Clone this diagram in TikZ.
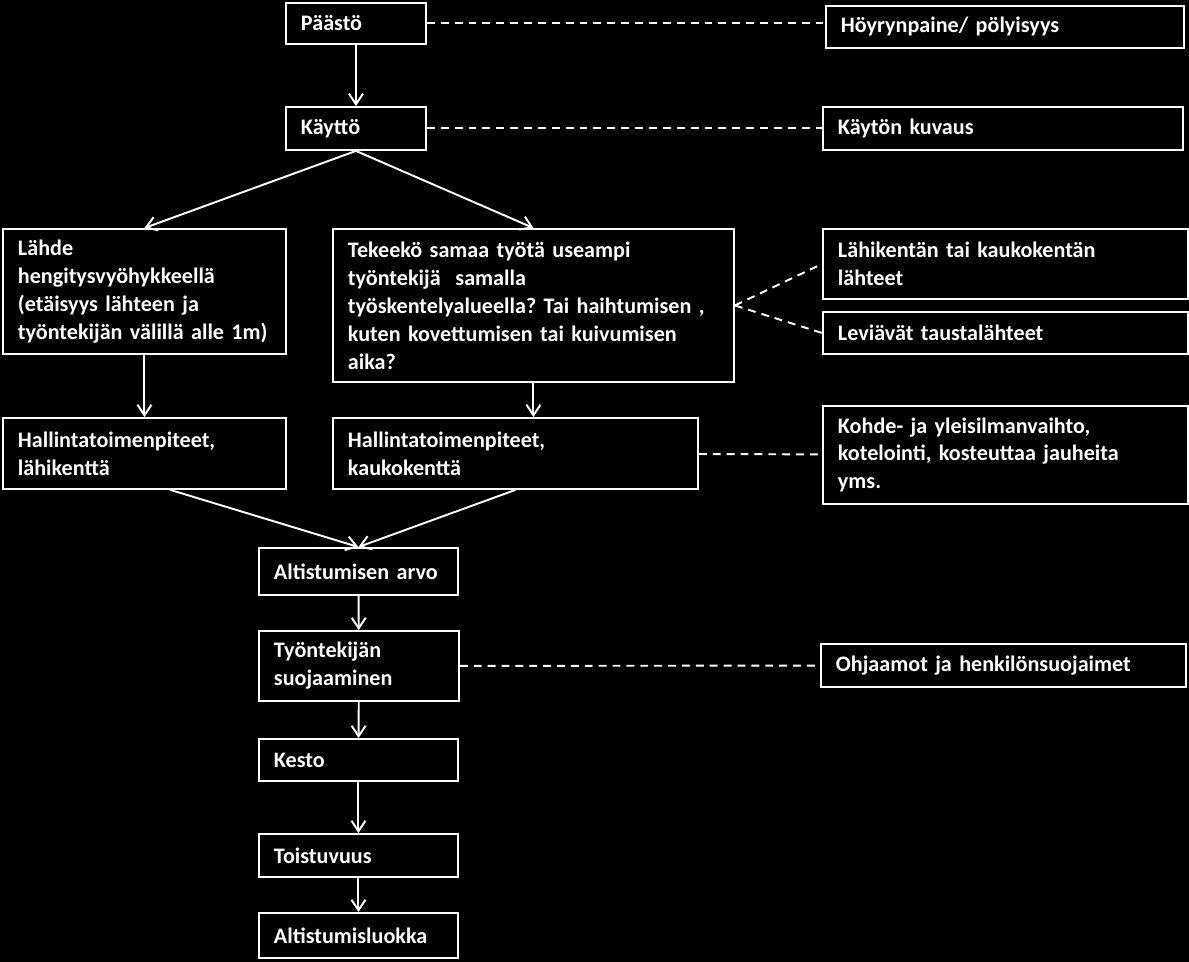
\documentclass[tikz,border=0pt]{standalone}
\usepackage{fontspec}
\setmainfont{Carlito}
\usetikzlibrary{arrows.meta}
\tikzset{
  box/.style={draw=white, line width=1.1pt, text=white, anchor=north west,
    align=left, inner xsep=0.3cm, inner ysep=0pt,
    font=\fontsize{12.6}{15.9}\selectfont\bfseries\frenchspacing},
  flow/.style={draw=white, line width=1.1pt,
    -{Straight Barb[length=6pt,width=8pt]}},
  link/.style={draw=white, line width=1.1pt, dash pattern=on 4.5pt off 3.4pt}
}
\begin{document}
\begin{tikzpicture}[x=0.02cm, y=-0.02cm]
      \fill[black] (0,0) rectangle (1189,962);
      \node[box, text width=2.2cm, minimum height=0.82cm] (paasto) at (285,2) {Päästö};
      \node[box, text width=6.56cm, minimum height=0.84cm] (hoyry) at (825,5) {Höyrynpaine/ pölyisyys};
      \node[box, text width=2.2cm, minimum height=0.86cm] (kaytto) at (285,106) {Käyttö};
      \node[box, text width=6.6cm, minimum height=0.86cm] (kuvaus) at (822,106) {Käytön kuvaus};
      \node[box, text width=5.06cm, minimum height=2.5cm] (lahde) at (2,228)
        {Lähde\\hengitysvyöhykkeellä\\(etäisyys lähteen ja\\työntekijän välillä alle 1m)};
      \node[box, text width=7.42cm, minimum height=3.06cm] (tekeeko) at (332,228)
        {Tekeekö samaa työtä useampi\\työntekijä\ \ samalla\\työskentelyalueella? Tai haihtumisen ,\\kuten kovettumisen tai kuivumisen\\aika?};
      \node[box, text width=6.7cm, minimum height=1.4cm] (lahteet) at (822,228)
        {Lähikentän tai kaukokentän\\lähteet};
      \node[box, text width=6.7cm, minimum height=0.84cm] (levia) at (822,311) {Leviävät taustalähteet};
      \node[box, text width=5.06cm, minimum height=1.42cm] (hallahi) at (2,417)
        {Hallintatoimenpiteet,\\lähikenttä};
      \node[box, text width=6.7cm, minimum height=1.42cm] (hallkauko) at (332,417)
        {Hallintatoimenpiteet,\\kaukokenttä};
      \node[box, text width=6.7cm, minimum height=1.96cm] (kohde) at (822,405)
        {Kohde- ja yleisilmanvaihto,\\kotelointi, kosteuttaa jauheita\\yms.};
      \node[box, text width=3.38cm, minimum height=0.94cm] (arvo) at (258,547) {Altistumisen arvo};
      \node[box, text width=3.4cm, minimum height=1.4cm] (suoja) at (258,630)
        {Työntekijän\\suojaaminen};
      \node[box, text width=6.7cm, minimum height=0.86cm] (ohjaamot) at (820,643)
        {Ohjaamot ja henkilönsuojaimet};
      \node[box, text width=3.38cm, minimum height=0.84cm] (kesto) at (258,738) {Kesto};
      \node[box, text width=3.38cm, minimum height=0.86cm] (toisto) at (258,833) {Toistuvuus};
      \node[box, text width=3.38cm, minimum height=0.9cm] (luokka) at (258,912) {Altistumisluokka};
      \begin{scope}[flow]
        \draw (paasto) to (kaytto);
        \draw (kaytto.south) to (lahde.north);
        \draw (kaytto.south) to (tekeeko.north);
        \draw (lahde.south) to (hallahi.north);
        \draw (tekeeko.south) to (tekeeko.south |- hallkauko.north);
        \draw ([xshift=0.52cm]hallahi.south) to (arvo.north);
        \draw (hallkauko.south) to (arvo.north);
        \draw (arvo) to (suoja);
        \draw (suoja) to (kesto);
        \draw (kesto) to (toisto);
        \draw (toisto) to (luokka);
      \end{scope}
      \begin{scope}[link]
        \draw (paasto.east) to (paasto.east -| hoyry.west);
        \draw (kaytto) to (kuvaus);
        \draw (tekeeko.east) to (lahteet.west);
        \draw (tekeeko.east) to (levia.west);
        \draw (hallkauko) to (kohde);
        \draw (suoja) to (ohjaamot);
      \end{scope}
    \end{tikzpicture}
\end{document}
